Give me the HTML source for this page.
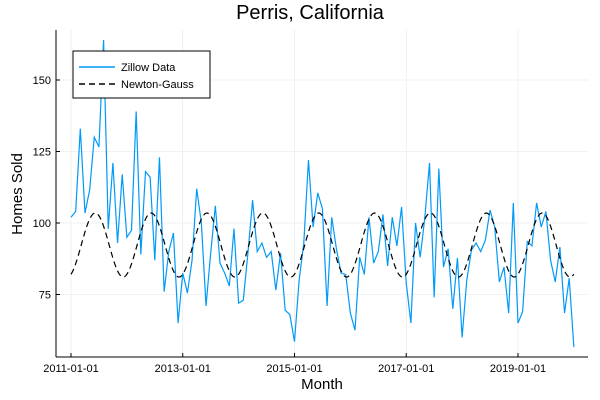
<!DOCTYPE html>
<html><head><meta charset="utf-8"><style>
body{margin:0;background:#fff}
svg{display:block;font-family:"Liberation Sans",sans-serif}
</style></head><body>
<svg id="chart" width="600" height="400" xmlns="http://www.w3.org/2000/svg">
<text x="310" y="19" font-size="20" text-anchor="middle" fill="#000">Perris, California</text>
<text x="22" y="194" font-size="15" text-anchor="middle" transform="rotate(-90 22 194)">Homes Sold</text>
<text x="322" y="389" font-size="15" text-anchor="middle">Month</text>
<g id="grid"></g><g id="series"></g><g id="axes"></g>
<g>
<rect x="73" y="51" width="137" height="47" fill="#fff" stroke="#000" stroke-width="1"/>
<line x1="79" y1="67" x2="115" y2="67" stroke="#009af9" stroke-width="1.5"/>
<text x="121" y="71" font-size="11">Zillow Data</text>
<line x1="79" y1="84" x2="115" y2="84" stroke="#000" stroke-width="1.5" stroke-dasharray="6,4"/>
<text x="121" y="88" font-size="11">Newton-Gauss</text>
</g>
</svg>
<script>
const sales=[102,104,133,103.5,111.5,130,126.6,164,98,121,93,117,95,97.5,139,89,118,116,87,123,76,90,96.5,65,82.5,75.5,87,112,100,71,89.5,106,86,82.5,78,98,72,73,89.5,108,90,93,88,90,76.5,89.5,69.5,68,58.5,80,93,122,98.6,110.5,105,71,102,91,82.5,82,68.5,62.5,88,82,102,86,90,103,85,102,92,105.6,79,65,100,88,102,121,74,119,84.6,91,70,87.8,60,80,90.5,93,90,94,104.5,98.6,79.4,84.6,68.5,107,65,69,93.5,92,107,98.6,104,87,79.4,91.6,68.5,80.7,56.6];
const fitParams=[92.3,11.2,12,2.2]; // mean, amplitude, period(months), phase
const yTicks=[75,100,125,150];
const xTickIdx=[0,24,48,72,96];
const xTickLabels=["2011-01-01","2013-01-01","2015-01-01","2017-01-01","2019-01-01"];
const X=i=>71+i*4.656, Y=v=>223-(v-100)*2.86;
const L=56,R=588,T=30,B=357;
const NS="http://www.w3.org/2000/svg";
function mk(p,t,a){const e=document.createElementNS(NS,t);for(const k in a)e.setAttribute(k,a[k]);p.appendChild(e);return e;}
const grid=document.getElementById('grid'),axes=document.getElementById('axes'),ser=document.getElementById('series');
yTicks.forEach(v=>{
 const g=mk(grid,'line',{x1:L,x2:R,y1:Y(v),y2:Y(v),stroke:'#e6e6e6','stroke-width':0.6});
 
 
 mk(axes,'line',{x1:L,x2:L+4,y1:Y(v),y2:Y(v),stroke:'#000'});
 const t=mk(axes,'text',{x:L-5,y:Y(v)+4,'font-size':11,'text-anchor':'end'});t.textContent=v;
 
 
});
xTickIdx.forEach((i,k)=>{
 const g=mk(grid,'line',{x1:X(i),x2:X(i),y1:T,y2:B,stroke:'#e6e6e6','stroke-width':0.6});
 
 
 mk(axes,'line',{x1:X(i),x2:X(i),y1:B,y2:B-4,stroke:'#000'});
 const t=mk(axes,'text',{x:X(i),y:B+15,'font-size':11,'text-anchor':'middle'});t.textContent=xTickLabels[k];
 
 
});
mk(axes,'line',{x1:L,x2:L,y1:T,y2:B,stroke:'#000'});
mk(axes,'line',{x1:L,x2:R,y1:B,y2:B,stroke:'#000'});
const zl=mk(ser,'polyline',{points:sales.map((v,i)=>X(i)+','+Y(v)).join(' '),fill:'none',stroke:'#009af9','stroke-width':1.2});


const pts=[];
for(let s=0;s<=(sales.length-1)*4;s++){const i=s/4;const v=fitParams[0]+fitParams[1]*Math.sin(2*Math.PI*(i-fitParams[3])/fitParams[2]);pts.push(X(i)+','+Y(v));}
const fl=mk(ser,'polyline',{points:pts.join(' '),fill:'none',stroke:'#000','stroke-width':1.2,'stroke-dasharray':'6,4'});


</script>
</body></html>
